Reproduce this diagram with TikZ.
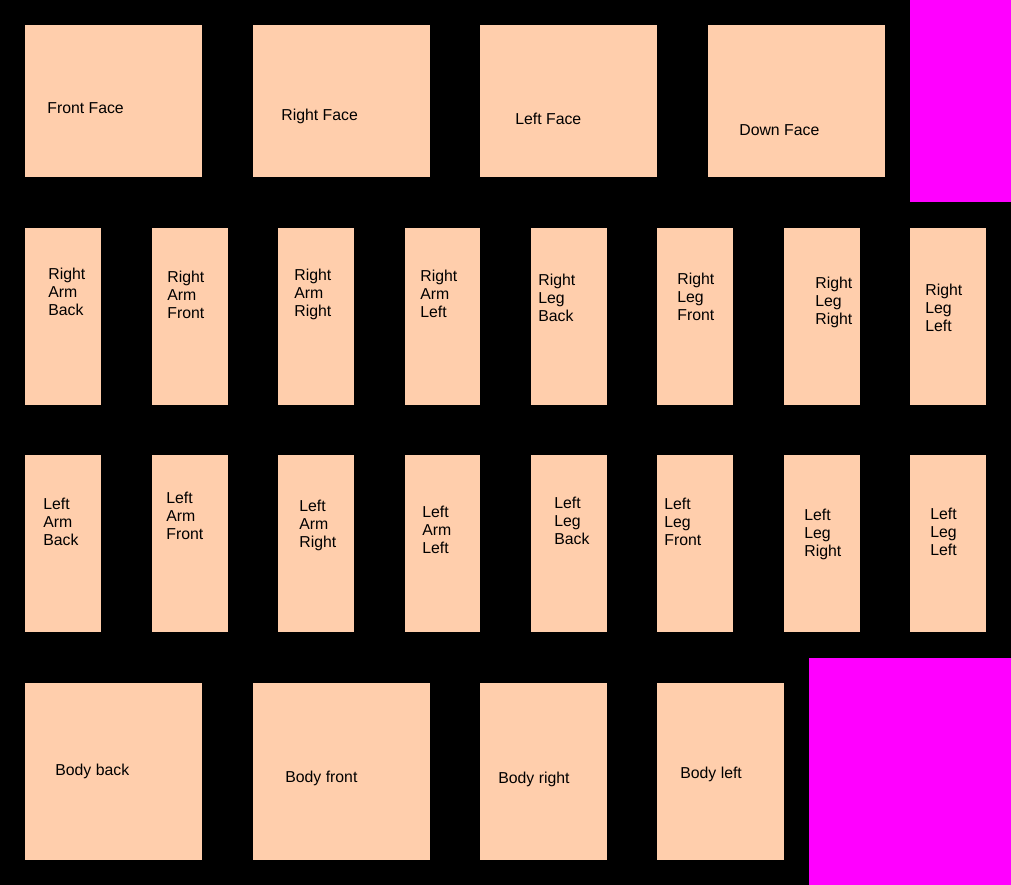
\documentclass[tikz,border=0pt]{standalone}
\usepackage{fontspec}
\setmainfont{Liberation Sans}
\usepackage{tikz}
\usetikzlibrary{positioning}
\definecolor{peach}{HTML}{FFCEAC}
\definecolor{unused}{HTML}{FF00FF}
\tikzset{
  panel/.style={fill=peach},
  spare/.style={fill=unused},
  partname/.style={shape=rectangle,right,inner sep=0pt,align=left,text=black,
    font=\fontsize{9}{10.24}\selectfont},
  facename/.style={partname,anchor=base west}
}
\begin{document}
\begin{tikzpicture}[x=0.02cm,y=-0.02cm]

\fill[black] (0,0) rectangle (1011,885);
\useasboundingbox (0,0) rectangle (1011,885);

% head
\fill[panel] (25,25) rectangle (202,177);
\fill[panel] (253,25) rectangle (430,177);
\fill[panel] (480,25) rectangle (657,177);
\fill[panel] (708,25) rectangle (885,177);
\fill[spare] (910,0) rectangle (1011,202);
\node[facename] (ff) at (47,114) {Front Face};
\node[facename] (rf) at (281,121) {Right Face};
\node[facename] (lf) at (515,125) {Left Face};
\node[facename] (df) at (739,136) {Down Face};

% right arm and leg
\fill[panel] (25,228) rectangle (101,405);
\fill[panel] (152,228) rectangle (228,405);
\fill[panel] (278,228) rectangle (354,405);
\fill[panel] (405,228) rectangle (480,405);
\fill[panel] (531,228) rectangle (607,405);
\fill[panel] (657,228) rectangle (733,405);
\fill[panel] (784,228) rectangle (860,405);
\fill[panel] (910,228) rectangle (986,405);
\node[partname] (rab) at (48,292) {Right\\Arm\\Back};
\node[partname] (raf) at (167,295) {Right\\Arm\\Front};
\node[partname] (rar) at (294,294) {Right\\Arm\\Right};
\node[partname] (ral) at (420,294) {Right\\Arm\\Left};
\node[partname] (rlb) at (538,298) {Right\\Leg\\Back};
\node[partname] (rlf) at (677,297) {Right\\Leg\\Front};
\node[partname] (rlr) at (815,302) {Right\\Leg\\Right};
\node[partname] (rll) at (925,308) {Right\\Leg\\Left};

% left arm and leg
\fill[panel] (25,455) rectangle (101,632);
\fill[panel] (152,455) rectangle (228,632);
\fill[panel] (278,455) rectangle (354,632);
\fill[panel] (405,455) rectangle (480,632);
\fill[panel] (531,455) rectangle (607,632);
\fill[panel] (657,455) rectangle (733,632);
\fill[panel] (784,455) rectangle (860,632);
\fill[panel] (910,455) rectangle (986,632);
\node[partname] (lab) at (43,522) {Left\\Arm\\Back};
\node[partname] (laf) at (166,516) {Left\\Arm\\Front};
\node[partname] (lar) at (299,525) {Left\\Arm\\Right};
\node[partname] (lal) at (422,530) {Left\\Arm\\Left};
\node[partname] (llb) at (554,521) {Left\\Leg\\Back};
\node[partname] (llf) at (664,522) {Left\\Leg\\Front};
\node[partname] (llr) at (804,534) {Left\\Leg\\Right};
\node[partname] (lll) at (930,532) {Left\\Leg\\Left};

% body
\fill[panel] (25,683) rectangle (202,860);
\fill[panel] (253,683) rectangle (430,860);
\fill[panel] (480,683) rectangle (607,860);
\fill[panel] (657,683) rectangle (784,860);
\fill[spare] (809,658) rectangle (1011,885);
\node[facename] (bb) at (55,775) {Body back};
\node[facename] (bf) at (285,782) {Body front};
\node[facename] (br) at (498,783) {Body right};
\node[facename] (bl) at (680,778) {Body left};

\end{tikzpicture}
\end{document}
